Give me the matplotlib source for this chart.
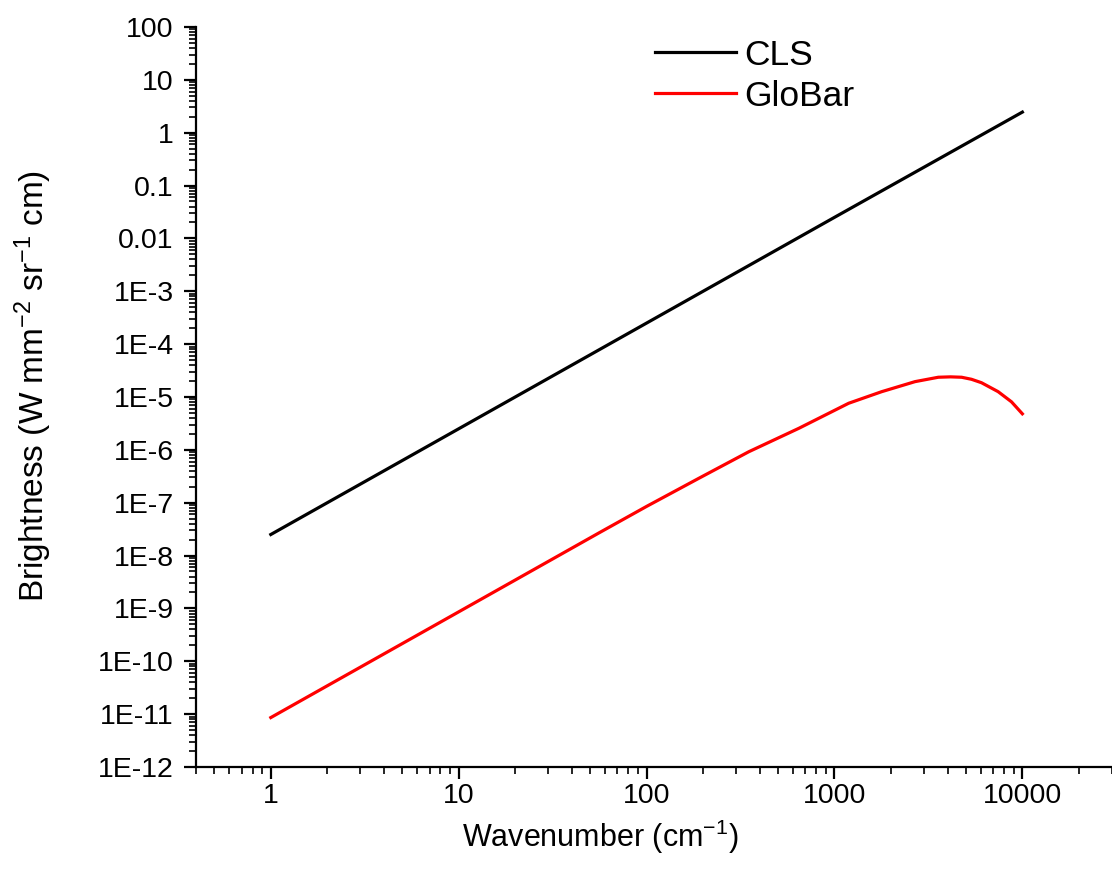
import numpy as np
import matplotlib
matplotlib.use("Agg")
from matplotlib import pyplot as plt
from matplotlib.ticker import FixedLocator, LogLocator, NullFormatter

plt.rcParams['font.family'] = ['Liberation Sans', 'DejaVu Sans']
plt.rcParams['mathtext.fontset'] = 'custom'
plt.rcParams['mathtext.rm'] = 'Liberation Sans'
plt.rcParams['mathtext.it'] = 'Liberation Sans'

# 数据
cls_nu = [1, 10, 100, 1000, 10000]
cls_b = [2.5e-8, 2.5e-6, 2.5e-4, 2.5e-2, 2.45]

globar_nu = [1, 10, 56, 100, 190, 350, 646, 1190, 1785, 2685, 3570, 4150,
             4750, 5360, 6060, 7430, 8750, 10000]
globar_b = [8.6e-12, 8.6e-10, 2.7e-8, 8.5e-8, 2.9e-7, 9.2e-7, 2.55e-6, 7.6e-6,
            1.26e-5, 1.95e-5, 2.36e-5, 2.4e-5, 2.36e-5, 2.16e-5, 1.86e-5,
            1.26e-5, 8.1e-6, 4.8e-6]

x_ticks = [1, 10, 100, 1000, 10000]
x_ticklabels = ["1", "10", "100", "1000", "10000"]
y_ticks = [1e2, 1e1, 1e0, 1e-1, 1e-2, 1e-3, 1e-4, 1e-5, 1e-6, 1e-7, 1e-8, 1e-9, 1e-10, 1e-11, 1e-12]
y_ticklabels = ["100", "10", "1", "0.1", "0.01", "1E-3", "1E-4", "1E-5", "1E-6",
                "1E-7", "1E-8", "1E-9", "1E-10", "1E-11", "1E-12"]

fig = plt.figure(figsize=(11.12, 8.84), dpi=100)
ax = fig.add_axes([0.1763, 0.1324, 0.8237, 0.8371])

ax.plot(cls_nu, cls_b, color="black", lw=2.3, label="CLS")
ax.plot(globar_nu, globar_b, color="#ff0000", lw=2.3, label="GloBar")

ax.set_xscale("log")
ax.set_yscale("log")
ax.set_xlim(0.4, 30000)
ax.set_ylim(1e-12, 100)

ax.xaxis.set_major_locator(FixedLocator(x_ticks))
ax.set_xticklabels(x_ticklabels)
ax.xaxis.set_minor_locator(LogLocator(base=10, subs=np.arange(2, 10), numticks=20))
ax.xaxis.set_minor_formatter(NullFormatter())

ax.yaxis.set_major_locator(FixedLocator(y_ticks))
ax.set_yticklabels(y_ticklabels)
ax.yaxis.set_minor_locator(LogLocator(base=10, subs=np.arange(2, 10), numticks=30))
ax.yaxis.set_minor_formatter(NullFormatter())

for s in ["top", "right"]:
    ax.spines[s].set_visible(False)
for s in ["left", "bottom"]:
    ax.spines[s].set_linewidth(1.6)

ax.tick_params(which="major", direction="out", length=8.5, width=1.6, labelsize=20.5)
ax.tick_params(which="minor", direction="out", length=5, width=1.2)
ax.tick_params(axis="y", which="major", pad=7.5)
ax.tick_params(axis="x", which="major", pad=3)

ax.set_xlabel(r"Wavenumber (cm$^{-1}$)", fontsize=22)
ax.xaxis.set_label_coords(0.441, -0.069)
ax.set_ylabel(r"Brightness (W mm$^{-2}$ sr$^{-1}$ cm)", fontsize=24)
ax.yaxis.set_label_coords(-0.155, 0.515)

leg = ax.legend(loc="upper left", bbox_to_anchor=(0.466, 1.027), frameon=False,
                fontsize=25.5, handlelength=2.3, handletextpad=0.22, labelspacing=0.22)

fig.savefig("out.png", dpi=100)
